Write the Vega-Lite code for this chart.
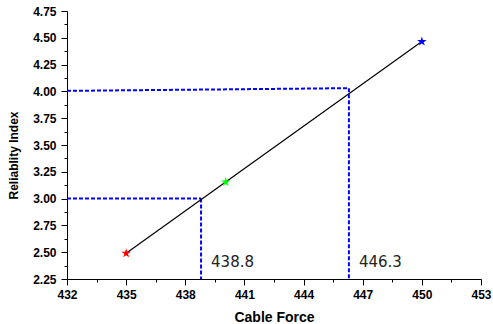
{
  "$schema": "https://vega.github.io/schema/vega-lite/v6.json",
  "autosize": {"type": "none"},
  "width": 414,
  "height": 268,
  "padding": {"left": 67, "top": 11, "right": 12, "bottom": 45},
  "background": "white",
  "config": {
    "view": {"stroke": null},
    "axis": {
      "domainColor": "black",
      "domainWidth": 1,
      "tickColor": "black",
      "tickWidth": 1,
      "grid": false,
      "labelFont": "Liberation Sans",
      "labelFontWeight": "bold",
      "labelFontSize": 12,
      "labelColor": "black",
      "titleFont": "Liberation Sans",
      "titleFontWeight": "bold",
      "titleColor": "black"
    }
  },
  "datasets": {
    "fit": [
      {"force": 435, "index": 2.49},
      {"force": 450, "index": 4.465}
    ],
    "cases": [
      {"force": 435, "index": 2.49, "case": "low"},
      {"force": 440.05, "index": 3.155, "case": "mid"},
      {"force": 450, "index": 4.465, "case": "high"}
    ],
    "guides": [
      {"force": 432, "index": 3.0, "force2": 438.8, "index2": 3.0},
      {"force": 438.8, "index": 3.0, "force2": 438.8, "index2": 2.25},
      {"force": 432, "index": 4.005, "force2": 446.3, "index2": 4.03},
      {"force": 446.3, "index": 4.03, "force2": 446.3, "index2": 2.25}
    ],
    "notes": [
      {"force": 438.8, "index": 2.365, "text": "438.8"},
      {"force": 446.3, "index": 2.365, "text": "446.3"}
    ]
  },
  "encoding": {
    "x": {
      "field": "force",
      "type": "quantitative",
      "scale": {"domain": [432, 453], "nice": false, "zero": false},
      "axis": {
        "title": "Cable Force",
        "titleFontSize": 14,
        "titleY": 42,
        "titleBaseline": "alphabetic",
        "values": [432, 433.5, 435, 436.5, 438, 439.5, 441, 442.5, 444, 445.5, 447, 448.5, 450, 451.5, 453],
        "labelExpr": "datum.value % 3 == 0 ? datum.label : ''",
        "tickSize": {"condition": {"test": "datum.value % 3 == 0", "value": 6}, "value": 3},
        "labelPadding": 4,
        "labelFlush": false,
        "labelOverlap": false
      }
    },
    "y": {
      "field": "index",
      "type": "quantitative",
      "scale": {"domain": [2.25, 4.75], "nice": false, "zero": false},
      "axis": {
        "title": "Reliablity Index",
        "titleFontSize": 12,
        "titleAngle": -90,
        "titleX": -54,
        "titleY": 144,
        "titleAlign": "center",
        "titleBaseline": "middle",
        "values": [2.25, 2.375, 2.5, 2.625, 2.75, 2.875, 3.0, 3.125, 3.25, 3.375, 3.5, 3.625, 3.75, 3.875, 4.0, 4.125, 4.25, 4.375, 4.5, 4.625, 4.75],
        "labelExpr": "abs(datum.value*4 - round(datum.value*4)) < 0.001 ? format(datum.value, '.2f') : ''",
        "tickSize": {"condition": {"test": "abs(datum.value*4 - round(datum.value*4)) < 0.001", "value": 6}, "value": 3},
        "labelPadding": 5,
        "labelFlush": false,
        "labelOverlap": false
      }
    }
  },
  "layer": [
    {
      "data": {"name": "guides"},
      "mark": {"type": "rule", "color": "#0000ff", "strokeWidth": 2, "strokeDash": [4, 2]},
      "encoding": {
        "x2": {"field": "force2"},
        "y2": {"field": "index2"}
      }
    },
    {
      "data": {"name": "fit"},
      "mark": {"type": "line", "color": "black", "strokeWidth": 1.2},
      "encoding": {}
    },
    {
      "data": {"name": "cases"},
      "mark": {
        "type": "point",
        "filled": true,
        "opacity": 1,
        "size": 100,
        "shape": "M0,-1L0.2245,-0.309L0.951,-0.309L0.363,0.118L0.588,0.809L0,0.382L-0.588,0.809L-0.363,0.118L-0.951,-0.309L-0.2245,-0.309Z"
      },
      "encoding": {
        "color": {
          "field": "case",
          "type": "nominal",
          "scale": {"domain": ["low", "mid", "high"], "range": ["#ff0000", "#00ff00", "#0000ff"]},
          "legend": null
        }
      }
    },
    {
      "data": {"name": "notes"},
      "mark": {"type": "text", "align": "left", "baseline": "alphabetic", "dx": 10, "font": "DejaVu Sans", "fontSize": 15, "color": "#222222"},
      "encoding": {"text": {"field": "text"}}
    }
  ]
}
